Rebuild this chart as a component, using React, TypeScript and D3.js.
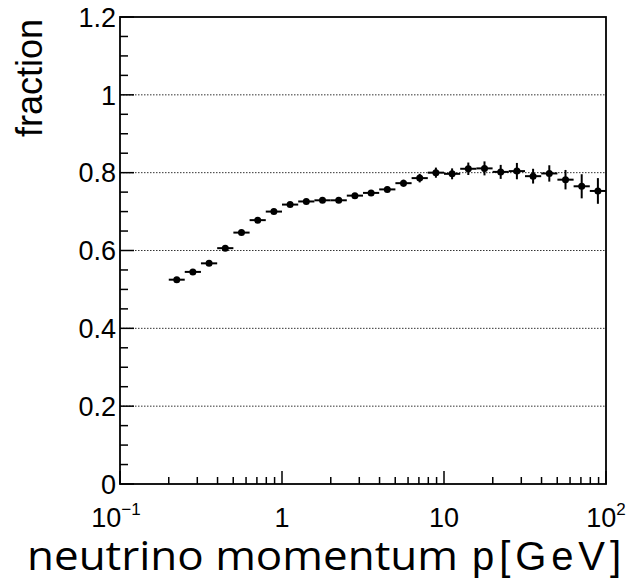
import React from "react";
import * as d3 from "d3";

// Bin edges (GeV), 10 bins per decade
const binEdges = [
  0.2, 0.251, 0.316, 0.398, 0.501, 0.631, 0.794, 1.0, 1.259, 1.585, 1.995,
  2.512, 3.162, 3.981, 5.012, 6.31, 7.943, 10.0, 12.59, 15.85, 19.95, 25.12,
  31.62, 39.81, 50.12, 63.1, 79.43, 100.0,
];
const fractionValues = [
  0.525, 0.545, 0.567, 0.606, 0.646, 0.678, 0.7, 0.718, 0.726, 0.729, 0.729,
  0.741, 0.748, 0.757, 0.773, 0.786, 0.8, 0.797, 0.81, 0.811, 0.802, 0.804,
  0.791, 0.798, 0.782, 0.765, 0.753,
];
const fractionErrors = [
  0.004, 0.004, 0.004, 0.004, 0.004, 0.004, 0.004, 0.004, 0.005, 0.005, 0.005,
  0.006, 0.006, 0.007, 0.009, 0.011, 0.013, 0.014, 0.016, 0.018, 0.018, 0.021,
  0.019, 0.021, 0.025, 0.031, 0.033,
];
const yMajorTicks = [0, 0.2, 0.4, 0.6, 0.8, 1, 1.2];
const yTickLabels = ["0", "0.2", "0.4", "0.6", "0.8", "1", "1.2"];
const gridValues = [0.2, 0.4, 0.6, 0.8, 1.0];
const xDecades = [0.1, 1, 10, 100];

const W = 630;
const H = 582;
const left = 120;
const right = 606;
const top = 17;
const bottom = 484;
const FONT = "'Liberation Sans', Arial, Helvetica, sans-serif";

export default function App() {
  const x = d3.scaleLog().domain([0.1, 100]).range([left, right]);
  const y = d3.scaleLinear().domain([0, 1.2]).range([bottom, top]);

  const yMinor = d3.range(0, 1.2001, 0.05).filter(
    (v) => !yMajorTicks.some((m) => Math.abs(m - v) < 1e-6)
  );
  const xMinor: number[] = [];
  [0.1, 1, 10].forEach((dec) => {
    for (let m = 2; m <= 9; m++) xMinor.push(dec * m);
  });

  const points = fractionValues.map((v, i) => {
    const lo = binEdges[i];
    const hi = binEdges[i + 1];
    const c = Math.sqrt(lo * hi);
    return { lo, hi, c, v, e: fractionErrors[i] };
  });

  return (
    <svg
      width={W}
      height={H}
      style={{ position: "absolute", left: 0, top: 0, background: "#fff" }}
      fontFamily={FONT}
    >
      <rect x={0} y={0} width={W} height={H} fill="#fff" />
      {/* grid */}
      {gridValues.map((g) => (
        <line
          key={"g" + g}
          x1={left}
          x2={right}
          y1={y(g)}
          y2={y(g)}
          stroke="#333"
          strokeWidth={1}
          strokeDasharray="1.5,1.5"
        />
      ))}
      {/* y ticks */}
      {yMajorTicks.map((t) => (
        <line key={"ym" + t} x1={left} x2={left + 14} y1={y(t)} y2={y(t)} stroke="#000" strokeWidth={1.5} />
      ))}
      {yMinor.map((t) => (
        <line key={"yn" + t} x1={left} x2={left + 8} y1={y(t)} y2={y(t)} stroke="#000" strokeWidth={1.5} />
      ))}
      {yMajorTicks.map((t, i) => (
        <text
          key={"yl" + t}
          x={left - 4}
          y={y(t)}
          dy="0.36em"
          textAnchor="end"
          fontSize={27}
          fill="#000"
        >
          {yTickLabels[i]}
        </text>
      ))}
      {/* x ticks */}
      {xDecades.map((t) => (
        <line key={"xm" + t} x1={x(t)} x2={x(t)} y1={bottom} y2={bottom - 13} stroke="#000" strokeWidth={1.5} />
      ))}
      {xMinor.map((t) => (
        <line key={"xn" + t} x1={x(t)} x2={x(t)} y1={bottom} y2={bottom - 7} stroke="#000" strokeWidth={1.5} />
      ))}
      <text x={x(0.1) - 4} y={527} textAnchor="middle" fontSize={27}>
        10
        <tspan fontSize={17} dy={-12}>−1</tspan>
      </text>
      <text x={x(1)} y={527} textAnchor="middle" fontSize={27}>
        1
      </text>
      <text x={x(10)} y={527} textAnchor="middle" fontSize={27}>
        10
      </text>
      <text x={x(100)} y={527} textAnchor="middle" fontSize={27}>
        10
        <tspan fontSize={17} dy={-12}>2</tspan>
      </text>
      {/* frame */}
      <rect
        x={left}
        y={top}
        width={right - left}
        height={bottom - top}
        fill="none"
        stroke="#000"
        strokeWidth={1.8}
      />
      {/* data */}
      {points.map((p, i) => (
        <g key={"p" + i}>
          <line x1={x(p.lo)} x2={x(p.hi)} y1={y(p.v)} y2={y(p.v)} stroke="#000" strokeWidth={2} />
          <line x1={x(p.c)} x2={x(p.c)} y1={y(p.v - p.e)} y2={y(p.v + p.e)} stroke="#000" strokeWidth={2} />
          <circle cx={x(p.c)} cy={y(p.v)} r={3.5} fill="#000" />
        </g>
      ))}
      {/* axis titles */}
      <text
        transform="translate(42,78) rotate(-90)"
        textAnchor="middle"
        fontSize={36}
        fill="#000"
      >
        fraction
      </text>
      <text
        x={27}
        y={570}
        fontSize={41}
        fontFamily="'Open Sans', 'Liberation Sans', sans-serif"
        fill="#000"
        textLength={431}
        lengthAdjust="spacingAndGlyphs"
      >
        neutrino momentum
      </text>
      <text x={472} y={570} fontSize={40} fill="#000" textLength={149} lengthAdjust="spacing">
        p[GeV]
      </text>
    </svg>
  );
}
